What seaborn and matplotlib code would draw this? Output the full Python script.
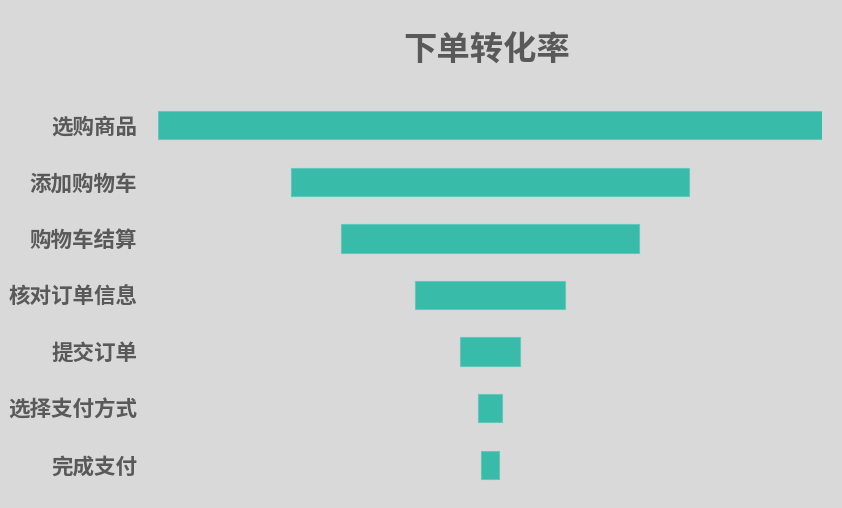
import seaborn as sns
import pandas as pd
import numpy as np
import matplotlib.pyplot as plt

# 漏斗各环节（按图上条形宽度估计）
stages = ['选购商品', '添加购物车', '购物车结算', '核对订单信息', '提交订单', '选择支付方式', '完成支付']
counts = [1000, 600, 450, 225, 90, 36, 27]

bg = '#d9d9d9'
bar_color = '#38bba9'
text_color = '#595959'

df = pd.DataFrame({'stage': stages, 'count': counts})
# 辅助列：让条形居中
df['helper'] = (max(counts) - df['count']) / 2

sns.set_theme(style='white')
plt.rcParams['font.family'] = ['Noto Sans CJK SC', 'DejaVu Sans']

fig = plt.figure(figsize=(8.42, 5.08), dpi=100, facecolor=bg)
ax = fig.add_axes([158 / 842, 1 - 493 / 508, 664 / 842, 396 / 508])
ax.set_facecolor(bg)

sns.barplot(data=df, y='stage', x='count', orient='h', color=bar_color,
            width=0.5, saturation=1, edgecolor='#62c9ba', linewidth=0.8, ax=ax)
# 把每个条形平移到辅助列的位置，形成漏斗
for bar, h in zip(ax.patches, df['helper']):
    bar.set_x(h)

ax.set_xlim(0, max(counts))
ax.set_xlabel('')
ax.set_ylabel('')
ax.set_xticks([])
for s in ax.spines.values():
    s.set_visible(False)
ax.tick_params(axis='y', length=0, pad=15)
for lab in ax.get_yticklabels():
    lab.set_fontsize(15.5)
    lab.set_fontweight('bold')
    lab.set_color(text_color)

fig.text(487 / 842, 1 - 51 / 508, '下单转化率', ha='center', va='center',
         fontsize=24, fontweight='bold', color=text_color)

fig.savefig('out.png', dpi=100, facecolor=bg)
